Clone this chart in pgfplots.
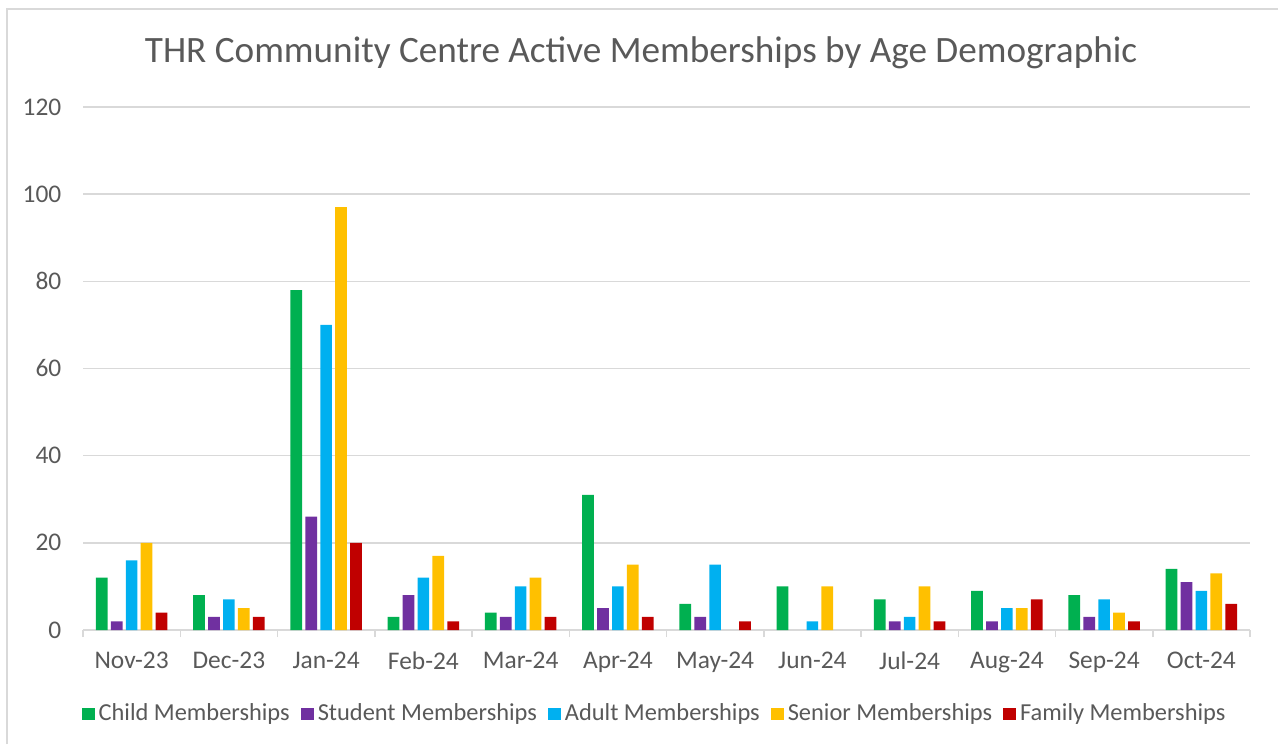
\documentclass[border=0pt]{standalone}
\usepackage{fontspec}
\setmainfont{Carlito}
\usepackage{pgfplots}
\usepackage{pgfplotstable}
\pgfplotsset{compat=1.18}
\definecolor{cgreen}{HTML}{00B050}
\definecolor{cpurple}{HTML}{7030A0}
\definecolor{cblue}{HTML}{00B0F0}
\definecolor{cgold}{HTML}{FFC000}
\definecolor{cred}{HTML}{C00000}
\definecolor{txt}{HTML}{595959}
\definecolor{gridc}{HTML}{D9D9D9}

\pgfplotstableread{
x child student adult senior family
0 12 2 16 20 4
1 8 3 7 5 3
2 78 26 70 97 20
3 3 8 12 17 2
4 4 3 10 12 3
5 31 5 10 15 3
6 6 3 15 0 2
7 10 0 2 10 0
8 7 2 3 10 2
9 9 2 5 5 7
10 8 3 7 4 2
11 14 11 9 13 6
}\datatable

\begin{document}
\begin{tikzpicture}[x=1pt,y=1pt]
\path[use as bounding box] (0,0) rectangle (639,372);
\draw[gridc, line width=0.75pt] (3.5,0) -- (3.5,367.5) -- (639,367.5);
\node[txt, font=\fontsize{18.6}{22}\selectfont, anchor=base, inner sep=0pt] at (320.5,340.5) {THR Community Centre Active Memberships by Age Demographic};
\begin{axis}[
  at={(41.5pt,57pt)}, anchor=south west,
  scale only axis, width=583.5pt, height=261.5pt,
  ybar=1.6pt, bar width=5.85pt,
  xmin=-0.5, xmax=11.5, ymin=0, ymax=120,
  enlargelimits=false,
  xtick={0,...,11},
  xticklabels={Nov-23,Dec-23,Jan-24,Feb-24,Mar-24,Apr-24,May-24,Jun-24,Jul-24,Aug-24,Sep-24,Oct-24},
  minor xtick={-0.5,0.5,...,11.5},
  ytick={0,20,...,120},
  major tick length=0pt,
  minor tick length=3.5pt,
  tick align=outside,
  minor x tick style={gridc, line width=0.75pt},
  ymajorgrids,
  major grid style={gridc, line width=0.75pt},
  axis x line*=bottom,
  axis y line*=left,
  x axis line style={gridc, line width=0.75pt, -},
  y axis line style={draw=none},
  tick label style={txt, font=\fontsize{12.7}{15}\selectfont},
  yticklabel style={xshift=-7.3pt},
  xticklabel style={yshift=-7.5pt},
  /pgf/number format/assume math mode=true,
  unbounded coords=discard,
  y filter/.expression={y==0 ? nan : y},
  legend columns=5,
  legend style={at={(rel axis cs:0.4906,-0.1606)}, anchor=center, draw=none,
    font=\fontsize{12.2}{15}\selectfont, text=txt,
    /tikz/every even column/.append style={column sep=3.5pt}},
  legend image code/.code={\fill[#1,draw=none] (0pt,-3.2pt) rectangle (6.5pt,3.2pt);},
]
\addplot[fill=cgreen, draw=none] table[x=x,y=child] {\datatable};
\addplot[fill=cpurple, draw=none] table[x=x,y=student] {\datatable};
\addplot[fill=cblue, draw=none] table[x=x,y=adult] {\datatable};
\addplot[fill=cgold, draw=none] table[x=x,y=senior] {\datatable};
\addplot[fill=cred, draw=none] table[x=x,y=family] {\datatable};
\legend{Child Memberships, Student Memberships, Adult Memberships, Senior Memberships, Family Memberships}
\end{axis}
\end{tikzpicture}
\end{document}
